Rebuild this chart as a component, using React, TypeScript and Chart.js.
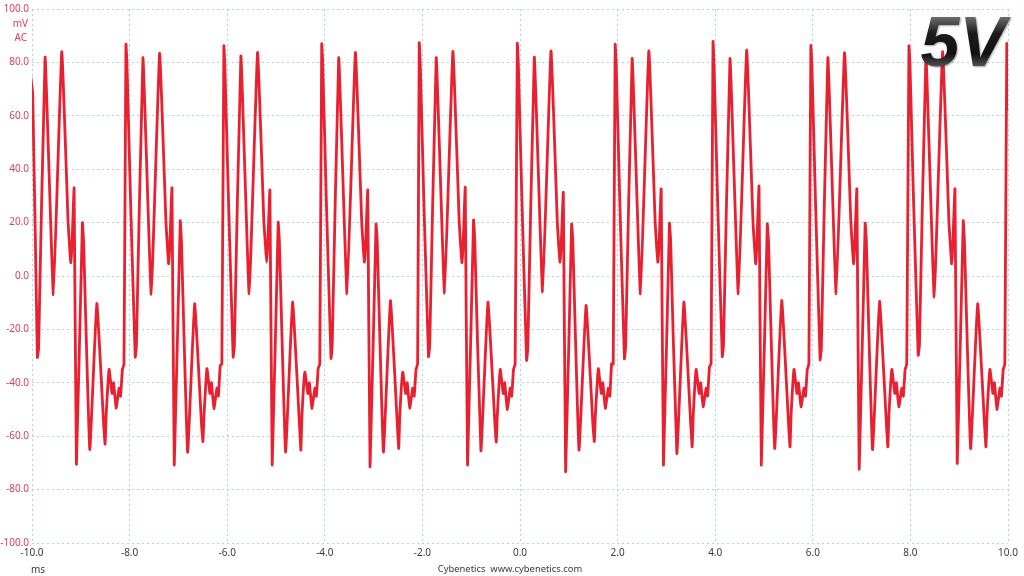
import React, { useEffect, useRef } from "react";
import { Chart, registerables } from "chart.js";

Chart.register(...registerables);

// Time (ms) of the leading spike of each 2 ms cycle
const SPIKE_TIMES_MS = [-10.08, -8.075, -6.068, -4.063, -2.065, -0.055, 1.95, 3.955, 5.96, 7.97, 9.975];

// Sample instants inside a cycle (ms after the leading spike)
const SAMPLE_OFFSETS_MS = [
  0, 0.02, 0.095, 0.19, 0.215, 0.348, 0.518, 0.69, 0.82, 0.85, 0.875, 0.9, 0.943, 0.99,
  1.113, 1.137, 1.264, 1.408, 1.55, 1.578, 1.6, 1.66, 1.721, 1.752, 1.803, 1.865, 1.895, 1.932, 1.965,
];

// Ripple values (mV) for each cycle
const CYCLE_0 = [87, 80, 68, -30.5, -27, 82, -7, 84, 20, 11, 5, 12, 33, -70.5, 20, 13, -65, -10.3, -56, -63, -52, -35, -44, -40, -49.5, -42, -45, -35, -33];
const CYCLE_1 = [86.8, 80, 28, -30.4, -26, 81.8, -6.9, 83.4, 20, 11, 4.6, 12, 33, -70.8, 20.7, 13, -66, -10.4, -56, -62, -52, -34.7, -44, -40, -49.7, -42, -45, -33.5, -33];
const CYCLE_2 = [86.2, 79, 28, -30.4, -26, 82.4, -6.7, 83.7, 20, 12, 5.2, 12, 32.2, -70.8, 20.1, 13, -65.9, -9.8, -56, -65.2, -52, -36, -44, -40, -49.6, -42, -45, -34.7, -33];
const CYCLE_3 = [87, 80, 28, -30.9, -26, 81.8, -6.7, 83.7, 20, 11, 5.2, 12, 32.2, -71.5, 19.5, 13, -65.9, -9.2, -56, -64.6, -52, -36, -44, -40, -49.5, -42, -45, -35, -33];
const CYCLE_4 = [87.4, 80, 28, -30.2, -26, 81.8, -6.4, 84.1, 20, 11, 5, 12, 33.2, -70.8, 21, 14, -65.5, -9.8, -55, -62.2, -52, -35, -44, -40, -50, -42, -45, -35, -33];
const CYCLE_5 = [87.2, 80, 28, -31.6, -27, 82, -6, 84.3, 20, 11, 5.2, 12, 31.3, -73.3, 19.5, 13, -65.2, -11, -56, -62, -52, -34.7, -44, -40, -49.6, -42, -45, -32.8, -33];
const CYCLE_6 = [86.8, 80, 28, -31, -26, 81.5, -6.7, 84.3, 20, 11, 5.2, 12, 32.6, -70.8, 19.8, 13, -66.5, -9.8, -56, -64, -52, -35, -44, -40, -49, -42, -45, -34, -33];
const CYCLE_7 = [87.8, 80, 28, -30.2, -26, 81.5, -6.7, 84.6, 20, 11, 4.6, 12, 33.7, -70.8, 19.5, 13, -64.6, -9.2, -56, -64, -52, -35, -44, -40, -49, -42, -45, -35, -33];
const CYCLE_8 = [86.3, 80, 28, -31.4, -27, 81.8, -6.7, 83.6, 20, 11, 4.6, 12, 32.6, -72.4, 19.8, 13, -65, -9.5, -56, -64, -52, -35, -44, -40, -49, -42, -45, -35, -33];
const CYCLE_9 = [86.2, 80, 28, -29.7, -26, 82.5, -7.9, 84, 20, 11, 4.6, 12, 32.6, -70.2, 20.7, 13, -64.6, -10.4, -56, -64, -52, -35, -44, -40, -50, -42, -45, -35, -33];
const CYCLE_10 = [87, 62];

const CYCLES = [CYCLE_0, CYCLE_1, CYCLE_2, CYCLE_3, CYCLE_4, CYCLE_5, CYCLE_6, CYCLE_7, CYCLE_8, CYCLE_9, CYCLE_10];

const X_MIN = -10;
const X_MAX = 10;
const X_STEP = 2;
const Y_MIN = -100;
const Y_MAX = 100;
const Y_STEP = 20;

const Y_UNIT_LABELS = ["mV", "AC"];
const X_UNIT_LABEL = "ms";
const FOOTER = "Cybenetics  www.cybenetics.com";
const BADGE = "5V";

const TRACE_COLOR = "rgb(232, 32, 48)";
const Y_TICK_COLOR = "rgb(214, 66, 96)";
const X_TICK_COLOR = "#3a3a3a";
const GRID_COLOR = "rgb(168, 214, 224)";
const FONT = '"Noto Sans", "Open Sans", sans-serif';

function buildPoints() {
  const pts: { x: number; y: number }[] = [];
  CYCLES.forEach((vals, k) => {
    const t0 = SPIKE_TIMES_MS[k];
    for (let i = 0; i < vals.length && i < SAMPLE_OFFSETS_MS.length; i++) {
      pts.push({ x: t0 + SAMPLE_OFFSETS_MS[i], y: vals[i] });
    }
  });
  return pts;
}

const overlayPlugin = {
  id: "overlayText",
  afterDraw(chart: any) {
    const ctx = chart.ctx as CanvasRenderingContext2D;
    const { left, right, top, bottom } = chart.chartArea;
    ctx.save();
    ctx.font = `10px ${FONT}`;
    ctx.fillStyle = Y_TICK_COLOR;
    ctx.textAlign = "right";
    ctx.textBaseline = "middle";
    ctx.fillText(Y_UNIT_LABELS[0], left - 4, top + 15);
    ctx.fillText(Y_UNIT_LABELS[1], left - 5, top + 29);
    ctx.fillStyle = X_TICK_COLOR;
    ctx.textAlign = "center";
    ctx.fillText(X_UNIT_LABEL, left + 6, bottom + 27);
    ctx.font = `9.4px ${FONT}`;
    ctx.fillText(FOOTER, chart.width / 2 - 2, bottom + 26);
    ctx.font = `italic bold 70px "Liberation Sans", Arial, sans-serif`;
    ctx.textAlign = "right";
    ctx.textBaseline = "alphabetic";
    const g = ctx.createLinearGradient(0, top + 6, 0, top + 58);
    g.addColorStop(0, "#777777");
    g.addColorStop(0.35, "#1c1c1c");
    g.addColorStop(0.75, "#111111");
    g.addColorStop(1, "#555555");
    ctx.shadowColor = "rgba(0,0,0,0.35)";
    ctx.shadowBlur = 2;
    ctx.shadowOffsetX = 1;
    ctx.shadowOffsetY = 1;
    ctx.fillStyle = g;
    ctx.fillText(BADGE, right - 2, top + 57);
    ctx.restore();
  },
};

export default function App() {
  const canvasRef = useRef<HTMLCanvasElement | null>(null);

  useEffect(() => {
    if (!canvasRef.current) return;
    const gridCommon = {
      color: GRID_COLOR,
      lineWidth: 1,
      drawTicks: false,
    };
    const chart = new Chart(canvasRef.current, {
      type: "line",
      data: {
        datasets: [
          {
            data: buildPoints(),
            borderColor: TRACE_COLOR,
            borderWidth: 2.8,
            borderJoinStyle: "round",
            pointRadius: 0,
            tension: 0.1,
            fill: false,
          },
        ],
      },
      options: {
        animation: false,
        responsive: false,
        devicePixelRatio: 1,
        parsing: false as any,
        layout: { padding: { left: 0, right: 16, top: 8, bottom: 0 } },
        plugins: {
          legend: { display: false },
          tooltip: { enabled: false },
        },
        scales: {
          x: {
            type: "linear",
            min: X_MIN,
            max: X_MAX,
            afterFit: (s: any) => {
              s.height = 33;
            },
            ticks: {
              stepSize: X_STEP,
              autoSkip: false,
              maxRotation: 0,
              padding: 4,
              color: X_TICK_COLOR,
              font: { family: FONT, size: 10 },
              callback: (v: any) => Number(v).toFixed(1),
            },
            grid: gridCommon,
            border: { display: false, dash: [2, 3] },
          },
          y: {
            type: "linear",
            min: Y_MIN,
            max: Y_MAX,
            afterFit: (s: any) => {
              s.width = 32;
            },
            ticks: {
              stepSize: Y_STEP,
              autoSkip: false,
              padding: 3,
              color: Y_TICK_COLOR,
              font: { family: FONT, size: 10 },
              callback: (v: any) => Number(v).toFixed(1),
            },
            grid: gridCommon,
            border: { display: false, dash: [2, 3] },
          },
        },
      },
      plugins: [overlayPlugin],
    });
    return () => chart.destroy();
  }, []);

  return (
    <div style={{ position: "fixed", left: 0, top: 0, width: 1024, height: 576, background: "#fff" }}>
      <canvas ref={canvasRef} width={1024} height={576} style={{ width: 1024, height: 576, display: "block" }} />
    </div>
  );
}
